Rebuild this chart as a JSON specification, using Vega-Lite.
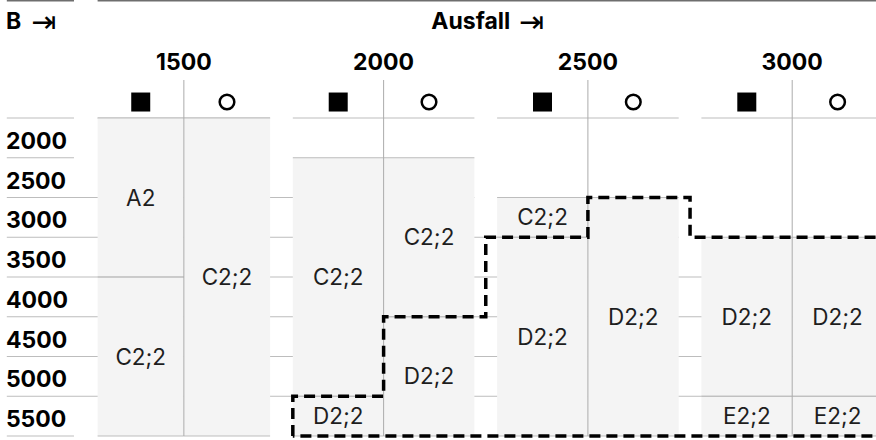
{
  "$schema": "https://vega.github.io/schema/vega-lite/v6.json",
  "width": 876,
  "height": 440,
  "padding": 0,
  "autosize": {"type": "none"},
  "background": "#ffffff",
  "config": {"view": {"stroke": null}, "font": "Inter"},
  "datasets": {
    "zellen": [
      {"ausfall": 1500, "typ": "■", "x0": 0.1, "x1": 1.05, "y0": 1750, "y1": 3750, "code": "A2"},
      {"ausfall": 1500, "typ": "■", "x0": 0.1, "x1": 1.05, "y0": 3750, "y1": 5750, "code": "C2;2"},
      {"ausfall": 1500, "typ": "○", "x0": 1.05, "x1": 2.0, "y0": 1750, "y1": 5750, "code": "C2;2"},
      {"ausfall": 2000, "typ": "■", "x0": 2.25, "x1": 3.25, "y0": 2250, "y1": 5250, "code": "C2;2"},
      {"ausfall": 2000, "typ": "■", "x0": 2.25, "x1": 3.25, "y0": 5250, "y1": 5750, "code": "D2;2"},
      {"ausfall": 2000, "typ": "○", "x0": 3.25, "x1": 4.25, "y0": 2250, "y1": 4250, "code": "C2;2"},
      {"ausfall": 2000, "typ": "○", "x0": 3.25, "x1": 4.25, "y0": 4250, "y1": 5750, "code": "D2;2"},
      {"ausfall": 2500, "typ": "■", "x0": 4.5, "x1": 5.5, "y0": 2750, "y1": 3250, "code": "C2;2"},
      {"ausfall": 2500, "typ": "■", "x0": 4.5, "x1": 5.5, "y0": 3250, "y1": 5750, "code": "D2;2"},
      {"ausfall": 2500, "typ": "○", "x0": 5.5, "x1": 6.5, "y0": 2750, "y1": 5750, "code": "D2;2"},
      {"ausfall": 3000, "typ": "■", "x0": 6.75, "x1": 7.75, "y0": 3250, "y1": 5250, "code": "D2;2"},
      {"ausfall": 3000, "typ": "■", "x0": 6.75, "x1": 7.75, "y0": 5250, "y1": 5750, "code": "E2;2"},
      {"ausfall": 3000, "typ": "○", "x0": 7.75, "x1": 8.75, "y0": 3250, "y1": 5250, "code": "D2;2"},
      {"ausfall": 3000, "typ": "○", "x0": 7.75, "x1": 8.75, "y0": 5250, "y1": 5750, "code": "E2;2"}
    ],
    "raster": [
      {"b": 1750, "x0": -0.9, "x1": -0.16},
      {"b": 1750, "x0": 0.1, "x1": 2.0},
      {"b": 1750, "x0": 2.25, "x1": 4.25},
      {"b": 1750, "x0": 4.5, "x1": 6.5},
      {"b": 1750, "x0": 6.75, "x1": 8.75},
      {"b": 2250, "x0": -0.9, "x1": -0.16},
      {"b": 2750, "x0": -0.9, "x1": 4.25},
      {"b": 3250, "x0": -0.9, "x1": 6.5},
      {"b": 3750, "x0": -0.9, "x1": 8.75},
      {"b": 4250, "x0": -0.9, "x1": 8.75},
      {"b": 4750, "x0": -0.9, "x1": 8.75},
      {"b": 5250, "x0": -0.9, "x1": 8.75},
      {"b": 5750, "x0": -0.9, "x1": -0.16}
    ],
    "kopf": [
      {"x0": -0.9, "x1": -0.16},
      {"x0": 0.1, "x1": 8.75}
    ],
    "gruppen": [
      {"ausfall": "1500", "xm": 1.05},
      {"ausfall": "2000", "xm": 3.25},
      {"ausfall": "2500", "xm": 5.5},
      {"ausfall": "3000", "xm": 7.75}
    ],
    "spalten": [
      {"typ": "■", "xm": 0.575},
      {"typ": "○", "xm": 1.525},
      {"typ": "■", "xm": 2.75},
      {"typ": "○", "xm": 3.75},
      {"typ": "■", "xm": 5.0},
      {"typ": "○", "xm": 6.0},
      {"typ": "■", "xm": 7.25},
      {"typ": "○", "xm": 8.25}
    ],
    "zeilen": [
      {"B": 2000}, {"B": 2500}, {"B": 3000}, {"B": 3500},
      {"B": 4000}, {"B": 4500}, {"B": 5000}, {"B": 5500}
    ],
    "pfeile": [
      {"t": "⇥", "x": -0.63},
      {"t": "⇥", "x": 4.74}
    ],
    "grenze": [
      {"i": 0, "x": 2.25, "b": 5750},
      {"i": 1, "x": 2.25, "b": 5250},
      {"i": 2, "x": 3.25, "b": 5250},
      {"i": 3, "x": 3.25, "b": 4250},
      {"i": 4, "x": 4.375, "b": 4250},
      {"i": 5, "x": 4.375, "b": 3250},
      {"i": 6, "x": 5.5, "b": 3250},
      {"i": 7, "x": 5.5, "b": 2750},
      {"i": 8, "x": 6.625, "b": 2750},
      {"i": 9, "x": 6.625, "b": 3250},
      {"i": 10, "x": 8.9, "b": 3250},
      {"i": 11, "x": 8.9, "b": 5750},
      {"i": 12, "x": 2.25, "b": 5750}
    ]
  },
  "layer": [
    {
      "data": {"name": "raster"},
      "mark": {"type": "rule", "color": "#bdbdbd", "strokeWidth": 1},
      "encoding": {
        "x": {"field": "x0", "type": "quantitative", "scale": {"domain": [-0.975, 8.673], "nice": false, "zero": false}, "axis": null},
        "x2": {"field": "x1"},
        "y": {"field": "b", "type": "quantitative", "scale": {"domain": [265.7, 5800.3], "nice": false, "zero": false, "reverse": true}, "axis": null}
      }
    },
    {
      "data": {"name": "kopf"},
      "mark": {"type": "rule", "color": "#6e6e6e", "strokeWidth": 1.5},
      "encoding": {
        "x": {"field": "x0", "type": "quantitative", "scale": {"domain": [-0.975, 8.673], "nice": false, "zero": false}, "axis": null},
        "x2": {"field": "x1"},
        "y": {"datum": 275, "type": "quantitative", "scale": {"domain": [265.7, 5800.3], "nice": false, "zero": false, "reverse": true}, "axis": null}
      }
    },
    {
      "data": {"name": "zellen"},
      "mark": {"type": "rect", "color": "#f4f4f4", "clip": true},
      "encoding": {
        "x": {"field": "x0", "type": "quantitative", "scale": {"domain": [-0.975, 8.673], "nice": false, "zero": false}, "axis": null},
        "x2": {"field": "x1"},
        "y": {"field": "y0", "type": "quantitative", "scale": {"domain": [265.7, 5800.3], "nice": false, "zero": false, "reverse": true}, "axis": null},
        "y2": {"field": "y1"}
      }
    },
    {
      "data": {"name": "zellen"},
      "mark": {"type": "rule", "color": "#bdbdbd", "strokeWidth": 1, "clip": true},
      "encoding": {
        "x": {"field": "x0", "type": "quantitative", "scale": {"domain": [-0.975, 8.673], "nice": false, "zero": false}, "axis": null},
        "x2": {"field": "x1"},
        "y": {"field": "y0", "type": "quantitative", "scale": {"domain": [265.7, 5800.3], "nice": false, "zero": false, "reverse": true}, "axis": null}
      }
    },
    {
      "data": {"name": "zellen"},
      "mark": {"type": "rule", "color": "#bdbdbd", "strokeWidth": 1, "clip": true},
      "encoding": {
        "x": {"field": "x0", "type": "quantitative", "scale": {"domain": [-0.975, 8.673], "nice": false, "zero": false}, "axis": null},
        "x2": {"field": "x1"},
        "y": {"field": "y1", "type": "quantitative", "scale": {"domain": [265.7, 5800.3], "nice": false, "zero": false, "reverse": true}, "axis": null}
      }
    },
    {
      "data": {"name": "gruppen"},
      "mark": {"type": "rule", "color": "#ababab", "strokeWidth": 1},
      "encoding": {
        "x": {"field": "xm", "type": "quantitative", "scale": {"domain": [-0.975, 8.673], "nice": false, "zero": false}, "axis": null},
        "y": {"datum": 1272, "type": "quantitative", "scale": {"domain": [265.7, 5800.3], "nice": false, "zero": false, "reverse": true}, "axis": null},
        "y2": {"datum": 5750}
      }
    },
    {
      "data": {"name": "grenze"},
      "mark": {"type": "line", "color": "#000000", "strokeWidth": 3.5, "strokeDash": [11, 6], "strokeCap": "butt", "strokeJoin": "miter", "clip": true},
      "encoding": {
        "x": {"field": "x", "type": "quantitative", "scale": {"domain": [-0.975, 8.673], "nice": false, "zero": false}, "axis": null},
        "y": {"field": "b", "type": "quantitative", "scale": {"domain": [265.7, 5800.3], "nice": false, "zero": false, "reverse": true}, "axis": null},
        "order": {"field": "i", "type": "quantitative"}
      }
    },
    {
      "data": {"name": "zellen"},
      "transform": [
        {"calculate": "(datum.x0 + datum.x1) / 2", "as": "xm"},
        {"calculate": "(datum.y0 + datum.y1) / 2", "as": "ym"}
      ],
      "mark": {"type": "text", "fontSize": 22.5, "color": "#1e1e1e", "align": "center", "baseline": "middle", "dy": 1},
      "encoding": {
        "x": {"field": "xm", "type": "quantitative", "scale": {"domain": [-0.975, 8.673], "nice": false, "zero": false}, "axis": null},
        "y": {"field": "ym", "type": "quantitative", "scale": {"domain": [265.7, 5800.3], "nice": false, "zero": false, "reverse": true}, "axis": null},
        "text": {"field": "code"}
      }
    },
    {
      "data": {"name": "zeilen"},
      "mark": {"type": "text", "fontSize": 23, "fontWeight": "bold", "color": "#000000", "align": "left", "baseline": "middle", "dy": 4},
      "encoding": {
        "x": {"datum": -0.91, "type": "quantitative", "scale": {"domain": [-0.975, 8.673], "nice": false, "zero": false}, "axis": null},
        "y": {"field": "B", "type": "quantitative", "scale": {"domain": [265.7, 5800.3], "nice": false, "zero": false, "reverse": true}, "axis": null},
        "text": {"field": "B"}
      }
    },
    {
      "data": {"name": "gruppen"},
      "mark": {"type": "text", "fontSize": 23, "fontWeight": "bold", "color": "#000000", "align": "center", "baseline": "middle"},
      "encoding": {
        "x": {"field": "xm", "type": "quantitative", "scale": {"domain": [-0.975, 8.673], "nice": false, "zero": false}, "axis": null},
        "y": {"datum": 1052, "type": "quantitative", "scale": {"domain": [265.7, 5800.3], "nice": false, "zero": false, "reverse": true}, "axis": null},
        "text": {"field": "ausfall"}
      }
    },
    {
      "data": {"name": "spalten"},
      "transform": [{"filter": "datum.typ === '■'"}],
      "mark": {"type": "point", "shape": "square", "filled": true, "size": 361, "color": "#000000", "opacity": 1},
      "encoding": {
        "x": {"field": "xm", "type": "quantitative", "scale": {"domain": [-0.975, 8.673], "nice": false, "zero": false}, "axis": null},
        "y": {"datum": 1549, "type": "quantitative", "scale": {"domain": [265.7, 5800.3], "nice": false, "zero": false, "reverse": true}, "axis": null}
      }
    },
    {
      "data": {"name": "spalten"},
      "transform": [{"filter": "datum.typ === '○'"}],
      "mark": {"type": "point", "shape": "circle", "filled": false, "size": 214, "color": "#000000", "strokeWidth": 2.5, "opacity": 1},
      "encoding": {
        "x": {"field": "xm", "type": "quantitative", "scale": {"domain": [-0.975, 8.673], "nice": false, "zero": false}, "axis": null},
        "y": {"datum": 1549, "type": "quantitative", "scale": {"domain": [265.7, 5800.3], "nice": false, "zero": false, "reverse": true}, "axis": null}
      }
    },
    {
      "data": {"values": [{"t": "B", "x": -0.91}]},
      "mark": {"type": "text", "fontSize": 23, "fontWeight": "bold", "color": "#000000", "align": "left", "baseline": "middle"},
      "encoding": {
        "x": {"field": "x", "type": "quantitative", "scale": {"domain": [-0.975, 8.673], "nice": false, "zero": false}, "axis": null},
        "y": {"datum": 542, "type": "quantitative", "scale": {"domain": [265.7, 5800.3], "nice": false, "zero": false, "reverse": true}, "axis": null},
        "text": {"field": "t"}
      }
    },
    {
      "data": {"values": [{"t": "Ausfall", "x": 4.645}]},
      "mark": {"type": "text", "fontSize": 23, "fontWeight": "bold", "color": "#000000", "align": "right", "baseline": "middle"},
      "encoding": {
        "x": {"field": "x", "type": "quantitative", "scale": {"domain": [-0.975, 8.673], "nice": false, "zero": false}, "axis": null},
        "y": {"datum": 542, "type": "quantitative", "scale": {"domain": [265.7, 5800.3], "nice": false, "zero": false, "reverse": true}, "axis": null},
        "text": {"field": "t"}
      }
    },
    {
      "data": {"name": "pfeile"},
      "mark": {"type": "text", "font": "DejaVu Sans", "fontSize": 30, "color": "#000000", "align": "left", "baseline": "middle", "dy": 1},
      "encoding": {
        "x": {"field": "x", "type": "quantitative", "scale": {"domain": [-0.975, 8.673], "nice": false, "zero": false}, "axis": null},
        "y": {"datum": 542, "type": "quantitative", "scale": {"domain": [265.7, 5800.3], "nice": false, "zero": false, "reverse": true}, "axis": null},
        "text": {"field": "t"}
      }
    }
  ]
}
